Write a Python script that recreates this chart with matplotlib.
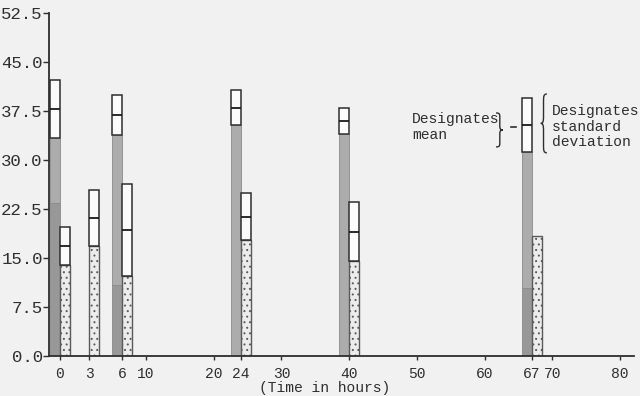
import numpy as np
import matplotlib
matplotlib.use("Agg")
import matplotlib.pyplot as plt
from matplotlib.path import Path
from matplotlib.patches import PathPatch

# ---------------- data ----------------
times = [0, 3, 6, 24, 40, 67]
dark_mean = [37.8, np.nan, 36.9, 38.0, 36.0, 35.4]
dark_sd = [4.4, np.nan, 3.1, 2.7, 2.0, 4.1]
dark_base = [23.4, np.nan, 10.9, 0.0, 0.0, 10.4]   # darker-shaded lower part of the dark bars
light_mean = [16.9, 21.1, 19.3, 21.3, 19.0, 18.4]
light_sd = [2.9, 4.3, 7.0, 3.6, 4.5, np.nan]
xticks = [0, 3, 6, 10, 20, 24, 30, 40, 50, 60, 67, 70, 80]
yticks = [0.0, 7.5, 15.0, 22.5, 30.0, 37.5, 45.0, 52.5]

# ---------------- style ----------------
BG = "#f1f1f1"
INK = "#2e2e2e"
FONT = "Liberation Mono"
plt.rcParams["font.family"] = [FONT, "DejaVu Sans Mono"]
plt.rcParams["hatch.linewidth"] = 0.7

# piecewise-linear (non-uniform) time axis as drawn in the original
KT = [-1000.0, -1.05, 0.0, 3.0, 6.0, 10.0, 80.0, 1000.0]
KP = [-1000.0 * 10 - 0.5, 0.0, 10.5, 40.0, 73.0, 97.0, 571.0, 571.0 + 920 * 6.77]


def fwd(t):
    return np.interp(np.asarray(t, float), KT, KP)


def inv(p):
    return np.interp(np.asarray(p, float), KP, KT)


BW = 10.0  # bar width in scale units

fig = plt.figure(figsize=(6.4, 3.96), dpi=100, facecolor=BG)
ax = fig.add_axes([49 / 640, 40 / 396, 584.5 / 640, 343 / 396])
ax.set_facecolor(BG)
ax.set_xscale("function", functions=(fwd, inv))
ax.set_xlim(-1.05, inv(584.5))
ax.set_ylim(0, 52.5)


def sd_bars(left, right, mean, sd, base_color, hatch=None, lower=None):
    lo, hi = mean - sd, mean + sd
    w = right - left
    if lower is not None and lower > 0:
        ax.bar(left, lower, width=w, bottom=0, align="edge", color="#989898",
               edgecolor="#8a8a8a", linewidth=0.6, zorder=2)
        ax.bar(left, lo - lower, width=w, bottom=lower, align="edge", color=base_color,
               edgecolor="#8a8a8a", linewidth=0.6, zorder=2)
    else:
        ax.bar(left, lo, width=w, bottom=0, align="edge", color=base_color,
               edgecolor="#5a5a5a" if hatch else "#8a8a8a",
               linewidth=1.0 if hatch else 0.6, hatch=hatch, zorder=2)
    ax.bar(left, hi - lo, width=w, bottom=lo, align="edge", color="#fbfbfb",
           edgecolor=INK, linewidth=1.1, zorder=3)
    ax.plot([left, right], [mean, mean], color="#1a1a1a", lw=1.3, zorder=4,
            solid_capstyle="butt")


for i, t in enumerate(times):
    p = fwd(t)
    # dark bar (left of the time tick)
    if not np.isnan(dark_mean[i]):
        l, r = float(inv(p - BW)), float(t)
        sd_bars(l, r, dark_mean[i], dark_sd[i], "#acacac", lower=dark_base[i])
    # stippled bar (right of the time tick)
    l, r = float(t), float(inv(p + BW))
    if np.isnan(light_sd[i]):
        ax.bar(l, light_mean[i], width=r - l, align="edge", color="#ececec",
               edgecolor="#5a5a5a", linewidth=1.0, hatch="...", zorder=2)
    else:
        sd_bars(l, r, light_mean[i], light_sd[i], "#ececec", hatch="...")

# ---------------- axes ----------------
for s in ("top", "right"):
    ax.spines[s].set_visible(False)
for s in ("left", "bottom"):
    ax.spines[s].set_color(INK)
    ax.spines[s].set_linewidth(1.3)

ax.set_yticks(yticks)
ax.set_yticklabels([f"{v:.1f}" for v in yticks], fontsize=12.5, color=INK)
ax.set_xticks(xticks)
ax.set_xticklabels([str(v) for v in xticks], fontsize=10.5, color=INK)
ax.tick_params(axis="y", direction="out", length=4, width=1.0, pad=0.5, color=INK)
ax.tick_params(axis="x", direction="out", length=3, width=1.0, pad=5, color=INK)

ax.set_xlabel("(Time in hours)", fontsize=10.5, color=INK)
ax.xaxis.set_label_coords(0.472, -0.093)
ax.xaxis.label.set_verticalalignment("center")

# ---------------- key annotation ----------------
def brace(x0, x1, y0, y1, point_right=True):
    u = [0, 0.55, 0.55, 0.55, 0.55, 0.55, 0.65, 1.0, 0.65, 0.55, 0.55, 0.55, 0.55, 0.55, 0]
    v = [1, 1, 0.96, 0.86, 0.62, 0.53, 0.5, 0.5, 0.5, 0.47, 0.38, 0.14, 0.04, 0, 0]
    codes = [Path.MOVETO, Path.CURVE4, Path.CURVE4, Path.CURVE4, Path.LINETO,
             Path.CURVE4, Path.CURVE4, Path.CURVE4, Path.CURVE4, Path.CURVE4, Path.CURVE4,
             Path.LINETO, Path.CURVE4, Path.CURVE4, Path.CURVE4]
    if not point_right:
        u = [1 - k for k in u]
    px0, px1 = fwd(x0), fwd(x1)
    xs = inv(px0 + np.array(u) * (px1 - px0))
    ys = y0 + np.array(v) * (y1 - y0)
    ax.add_patch(PathPatch(Path(np.column_stack([xs, ys]), codes), fill=False,
                           edgecolor=INK, lw=1.0, zorder=5, clip_on=False))


ax.text(49.3, 35.1, "Designates\nmean", fontsize=10.5, color=INK, ha="left",
        va="center", linespacing=1.15)
brace(61.7, 62.7, 32.0, 37.2, point_right=True)
ax.plot([63.9, 64.6], [35.1, 35.1], color=INK, lw=1.2)
brace(68.3, 69.2, 31.1, 40.1, point_right=False)
ax.text(70.0, 35.1, "Designates\nstandard\ndeviation", fontsize=10.5, color=INK,
        ha="left", va="center", linespacing=1.15)

fig.savefig("out.png", dpi=100, facecolor=BG)
